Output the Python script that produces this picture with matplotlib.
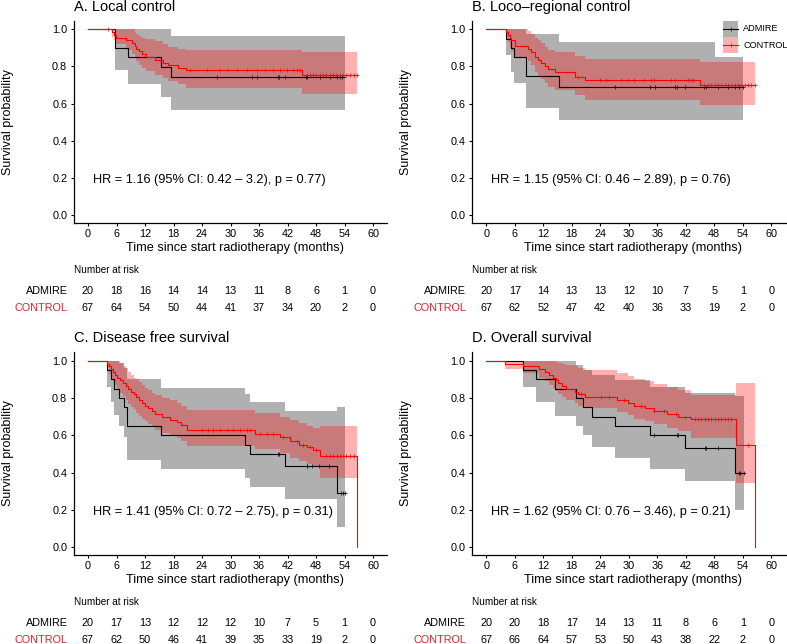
import numpy as np
import matplotlib
matplotlib.use("Agg")
import matplotlib.pyplot as plt
from matplotlib.transforms import blended_transform_factory
from matplotlib.patches import Rectangle
from matplotlib.lines import Line2D

plt.rcParams['font.family'] = ['Liberation Sans', 'DejaVu Sans']

W, H = 787, 644
nan = np.nan

# ---------------- data ----------------
risk_times = [0, 6, 12, 18, 24, 30, 36, 42, 48, 54, 60]
groups = ["ADMIRE", "CONTROL"]
titles = ["A. Local control", "B. Loco\u2013regional control",
          "C. Disease free survival", "D. Overall survival"]
hr_texts = ["HR = 1.16 (95% CI: 0.42 \u2013 3.2), p = 0.77)",
            "HR = 1.15 (95% CI: 0.46 \u2013 2.89), p = 0.76)",
            "HR = 1.41 (95% CI: 0.72 \u2013 2.75), p = 0.31)",
            "HR = 1.62 (95% CI: 0.76 \u2013 3.46), p = 0.21)"]

# Panel A
a_adm_t = [0, 5.7, 8.5, 15.4, 17.4]
a_adm_s = [1.0, 0.90, 0.85, 0.797, 0.744]
a_adm_lo = [1.0, 0.78, 0.704, 0.633, 0.568]
a_adm_hi = [1.0, 1.0, 1.0, 1.0, 0.964]
a_adm_end = 54.1
a_adm_cens = [27.1, 34.5, 35.5, 39.9, 40.2, 41.5, 45.9, 46.2, 48.8, 50.9, 52.4, 53.0, 53.5]
a_ctl_t = [0, 5.0, 5.4, 5.8, 8.1, 9.2, 9.9, 10.2, 10.8, 11.3, 12.3, 14.1, 15.8, 16.9, 19.0, 20.7, 45.0]
a_ctl_s = [1.0, .985, .970, .955, .940, .925, .910, .896, .881, .866, .851, .836, .821, .806, .791, .780, .754]
a_ctl_lo = [1.0, .96, .94, .92, .89, .865, .845, .83, .81, .79, .775, .755, .735, .72, .705, .685, .65]
a_ctl_hi = [1.0, 1.0, 1.0, 1.0, 1.0, 1.0, .985, .975, .965, .955, .945, .935, .92, .905, .895, .887, .875]
a_ctl_end = 56.6
a_ctl_cens = [4.2, 21.5, 25.0, 27.8, 29.2, 31.3, 33.4, 35.5, 37.3, 39.0, 40.4, 41.8, 43.2, 43.9, 44.6,
              46.0, 46.7, 47.4, 48.1, 48.8, 49.5, 50.2, 50.9, 51.6, 52.3, 53.0, 53.7, 54.4, 55.1, 55.9, 56.6]
a_risk_adm = [20, 18, 16, 14, 14, 13, 11, 8, 6, 1, 0]
a_risk_ctl = [67, 64, 54, 50, 44, 41, 37, 34, 20, 2, 0]

# Panel B
b_adm_t = [0, 4.2, 5.3, 5.8, 8.4, 15.4]
b_adm_s = [1.0, .95, .90, .85, .75, .69]
b_adm_lo = [1.0, .86, .77, .71, .575, .51]
b_adm_hi = [1.0, 1.0, 1.0, 1.0, .973, .934]
b_adm_end = 54.0
b_adm_cens = [27.0, 34.4, 35.5, 39.8, 40.1, 41.8, 45.9, 46.2, 48.8, 50.9, 52.3, 53.3, 54.0]
b_ctl_t = [0, 4.2, 4.6, 5.0, 5.3, 6.0, 8.8, 9.5, 10.2, 10.9, 11.6, 12.3, 13.0, 14.4, 18.6, 20.7, 45.0]
b_ctl_s = [1.0, .985, .97, .955, .94, .91, .895, .88, .85, .835, .82, .80, .785, .77, .745, .725, .70]
b_ctl_lo = [1.0, .955, .93, .905, .885, .85, .83, .81, .77, .75, .73, .71, .69, .675, .645, .62, .59]
b_ctl_hi = [1.0, 1.0, 1.0, 1.0, 1.0, 1.0, .99, .975, .955, .94, .925, .905, .89, .875, .855, .84, .826]
b_ctl_end = 56.5
b_ctl_cens = [19.3, 23.9, 25.3, 28.4, 29.8, 31.2, 33.3, 34.7, 35.4, 38.9, 39.7, 42.5, 43.2, 43.5, 45.9,
              46.7, 47.4, 48.1, 48.8, 49.5, 50.2, 50.9, 51.6, 52.3, 53.0, 53.7, 54.4, 55.1, 55.8, 56.5]
b_risk_adm = [20, 17, 14, 13, 13, 12, 10, 7, 5, 1, 0]
b_risk_ctl = [67, 62, 52, 47, 42, 40, 36, 33, 19, 2, 0]

# Panel C
c_adm_t = [0, 4.0, 4.8, 5.4, 6.5, 7.5, 8.3, 15.4, 33.1, 34.2, 41.5, 52.4]
c_adm_s = [1.0, .95, .90, .85, .80, .75, .65, .60, .55, .50, .4375, .29]
c_adm_lo = [1.0, .86, .78, .71, .65, .59, .47, .42, .37, .325, .26, .11]
c_adm_hi = [1.0, 1.0, 1.0, 1.0, .99, .96, .90, .857, .82, .78, .73, .755]
c_adm_end = 54.2
c_adm_cens = [40.1, 40.3, 46.0, 46.2, 47.1, 48.7, 50.8, 53.3, 53.6, 54.2]
c_ctl_t = [0, 4.0, 4.4, 4.8, 5.2, 5.6, 6.2, 6.8, 7.3, 7.9, 8.5, 9.0, 9.6, 10.2, 10.8, 11.4, 12.0, 12.6,
           13.4, 14.2, 15.5, 17.3, 18.8, 19.6, 20.8, 35.2, 40.4, 42.5, 44.5, 46.0, 47.4, 48.8, 56.6]
c_ctl_s = [1.0, .985, .97, .955, .94, .925, .91, .895, .88, .865, .85, .835, .82, .805, .79, .775, .76,
           .745, .73, .715, .70, .685, .67, .655, .627, .61, .59, .568, .55, .535, .52, .49, 0.0]
c_ctl_lo = [1.0, .96, .93, .91, .89, .87, .85, .83, .81, .79, .77, .755, .74, .72, .705, .69, .675,
            .66, .645, .63, .615, .60, .585, .57, .545, .525, .505, .48, .46, .445, .43, .37, nan]
c_ctl_hi = [1.0, 1.0, 1.0, 1.0, 1.0, 1.0, 1.0, .99, .975, .96, .94, .925, .91, .90, .885, .87, .855,
            .845, .83, .815, .80, .79, .775, .76, .737, .72, .70, .68, .665, .65, .64, .648, nan]
c_ctl_end = 56.6
c_ctl_cens = [23.9, 25.3, 26.4, 27.8, 29.2, 30.6, 32.0, 33.4, 34.1, 36.2, 37.6, 39.0, 41.1, 43.9,
              45.3, 46.7, 48.1, 50.2, 50.9, 51.6, 52.4, 53.0, 53.7, 54.4, 55.2, 55.9]
c_risk_adm = [20, 17, 13, 12, 12, 12, 10, 7, 5, 1, 0]
c_risk_ctl = [67, 62, 50, 46, 41, 39, 35, 33, 19, 2, 0]

# Panel D
d_adm_t = [0, 7.7, 10.5, 14.4, 18.9, 20.4, 22.2, 27.0, 34.4, 41.8, 52.3]
d_adm_s = [1.0, .95, .90, .85, .80, .75, .70, .65, .60, .533, .40]
d_adm_lo = [1.0, .86, .78, .705, .65, .60, .54, .48, .42, .353, .20]
d_adm_hi = [1.0, 1.0, 1.0, 1.0, .98, .95, .925, .895, .86, .826, .81]
d_adm_end = 54.3
d_adm_cens = [35.4, 40.1, 40.3, 46.0, 46.2, 48.8, 53.3, 53.5, 54.3]
d_ctl_t = [0, 3.9, 7.7, 11.2, 12.3, 13.2, 14.0, 14.7, 15.1, 16.0, 16.8, 18.6, 19.3, 20.7, 27.6,
           29.8, 31.2, 33.5, 35.4, 38.0, 40.4, 43.2, 52.6, 56.5]
d_ctl_s = [1.0, .985, .97, .955, .94, .925, .91, .895, .88, .865, .85, .835, .82, .806, .79,
           .775, .76, .745, .73, .715, .70, .688, .55, 0.0]
d_ctl_lo = [1.0, .955, .935, .91, .89, .87, .855, .84, .82, .805, .79, .775, .76, .745, .725,
            .71, .69, .675, .66, .64, .625, .585, .343, nan]
d_ctl_hi = [1.0, 1.0, 1.0, 1.0, 1.0, 1.0, 1.0, .995, .99, .985, .98, .97, .96, .95, .935,
            .92, .905, .89, .875, .86, .845, .817, .88, nan]
d_ctl_end = 56.5
d_ctl_cens = [20.0, 24.2, 25.9, 29.1, 32.6, 35.4, 37.5, 40.0, 41.8, 43.9, 44.6, 45.3, 46.0, 46.7,
              47.4, 48.1, 48.8, 49.5, 50.2, 50.9, 51.6, 55.1]
d_risk_adm = [20, 20, 18, 17, 14, 13, 11, 8, 6, 1, 0]
d_risk_ctl = [67, 66, 64, 57, 53, 50, 43, 38, 22, 2, 0]

panels = [
    ((a_adm_t, a_adm_s, a_adm_lo, a_adm_hi, a_adm_end, a_adm_cens),
     (a_ctl_t, a_ctl_s, a_ctl_lo, a_ctl_hi, a_ctl_end, a_ctl_cens), a_risk_adm, a_risk_ctl),
    ((b_adm_t, b_adm_s, b_adm_lo, b_adm_hi, b_adm_end, b_adm_cens),
     (b_ctl_t, b_ctl_s, b_ctl_lo, b_ctl_hi, b_ctl_end, b_ctl_cens), b_risk_adm, b_risk_ctl),
    ((c_adm_t, c_adm_s, c_adm_lo, c_adm_hi, c_adm_end, c_adm_cens),
     (c_ctl_t, c_ctl_s, c_ctl_lo, c_ctl_hi, c_ctl_end, c_ctl_cens), c_risk_adm, c_risk_ctl),
    ((d_adm_t, d_adm_s, d_adm_lo, d_adm_hi, d_adm_end, d_adm_cens),
     (d_ctl_t, d_ctl_s, d_ctl_lo, d_ctl_hi, d_ctl_end, d_ctl_cens), d_risk_adm, d_risk_ctl),
]

# ---------------- style / layout ----------------
LINE_COLS = ["black", "#FF0000"]
BAND_COLS = ["#000000", "#FF0000"]
BAND_ALPHA = 0.31
RISK_COLS = ["black", "#E0202A"]
CENS_MS = 2.6
CENS_MEW = 0.5

fig = plt.figure(figsize=(W / 100, H / 100), dpi=100)


def fx(x):
    return x / W


def fy(y):
    return 1 - y / H


# pixel boxes (left, top, right, bottom)
boxes = [(73.75, 20.7, 387.25, 222.7), (472.0, 20.7, 785.5, 222.7),
         (73.75, 352.3, 387.25, 554.8), (472.0, 352.3, 785.5, 554.8)]
title_y = [7, 7, 338, 338]
row_y = [dict(tick=234, xlab=247.5, nar=270, adm=291, ctl=308),
         dict(tick=566, xlab=580, nar=602, adm=622.5, ctl=640)]


def draw_group(ax, data, col, bcol, zb, zl):
    t, s, lo, hi, end, cens = data
    t = np.asarray(t, float)
    s = np.asarray(s, float)
    lo = np.asarray(lo, float)
    hi = np.asarray(hi, float)
    cens = np.asarray(cens, float)
    valid = ~np.isnan(lo)
    bt = t[valid]
    band_end = t[~valid][0] if (~valid).any() else end
    xb = np.append(bt, band_end)
    ax.fill_between(xb, np.append(lo[valid], lo[valid][-1]), np.append(hi[valid], hi[valid][-1]),
                    step='post', color=bcol, alpha=BAND_ALPHA, lw=0, zorder=zb)
    x = np.append(t, end)
    y = np.append(s, s[-1])
    ax.step(x, y, where='post', color=col, lw=0.8, zorder=zl)
    idx = np.searchsorted(t, cens, side='right') - 1
    ax.plot(cens, s[idx], ls='none', marker='+', ms=CENS_MS, mew=CENS_MEW, color=col, zorder=zl)


for i, (adm, ctl, radm, rctl) in enumerate(panels):
    l, t_, r, b = boxes[i]
    ax = fig.add_axes([fx(l), fy(b), fx(r) - fx(l), fy(t_) - fy(b)])
    ax.set_xlim(-3, 63)
    ax.set_ylim(-0.041, 1.046)
    for sp in ['top', 'right']:
        ax.spines[sp].set_visible(False)
    for sp in ['left', 'bottom']:
        ax.spines[sp].set_linewidth(0.9)
    ax.set_xticks(risk_times)
    ax.set_yticks([0, 0.2, 0.4, 0.6, 0.8, 1.0])
    ax.set_yticklabels(["0.0", "0.2", "0.4", "0.6", "0.8", "1.0"])
    ax.tick_params(axis='both', labelsize=7.8, length=2.5, width=0.8, colors='black', pad=2.2)

    draw_group(ax, adm, LINE_COLS[0], BAND_COLS[0], 1, 3)
    draw_group(ax, ctl, LINE_COLS[1], BAND_COLS[1], 2, 4)

    ax.text(1.0, 0.19, hr_texts[i], fontsize=9.2, ha='left', va='center', color='black')

    fig.text(fx(l), fy(title_y[i]), titles[i], fontsize=10.5, ha='left', va='center')
    row = row_y[i // 2]
    cx = (l + r) / 2
    fig.text(fx(cx + 4), fy(row['xlab']), "Time since start radiotherapy (months)", fontsize=9.2,
             ha='center', va='center')
    fig.text(fx(l - 66), fy((t_ + b) / 2), "Survival probability", fontsize=9.0, rotation=90,
             ha='center', va='center')

    # risk table
    tr = blended_transform_factory(ax.transData, fig.transFigure)
    fig.text(fx(l), fy(row['nar']), "Number at risk", fontsize=7.2, ha='left', va='center')
    fig.text(fx(l - 6), fy(row['adm']), groups[0], fontsize=7.8, ha='right', va='center', color=RISK_COLS[0])
    fig.text(fx(l - 6), fy(row['ctl']), groups[1], fontsize=7.8, ha='right', va='center', color=RISK_COLS[1])
    for tt, n1, n2 in zip(risk_times, radm, rctl):
        ax.text(tt, fy(row['adm']), str(n1), transform=tr, fontsize=7.8, ha='center', va='center',
                clip_on=False)
        ax.text(tt, fy(row['ctl']), str(n2), transform=tr, fontsize=7.8, ha='center', va='center',
                clip_on=False)

# legend in panel B (manual, white background covering bands)
leg_ax = fig.add_axes([0, 0, 1, 1], facecolor='none')
leg_ax.set_xlim(0, W)
leg_ax.set_ylim(H, 0)
leg_ax.axis('off')
leg_ax.add_patch(Rectangle((715, 14), 80, 43, facecolor='white', edgecolor='none', zorder=1))
for k, (yy, g) in enumerate([(21, groups[0]), (37.3, groups[1])]):
    leg_ax.add_patch(Rectangle((723, yy), 15, 15.5, facecolor=BAND_COLS[k], alpha=BAND_ALPHA,
                               edgecolor='none', zorder=2))
    leg_ax.add_line(Line2D([723, 738], [yy + 7.7, yy + 7.7], color=LINE_COLS[k], lw=0.8, zorder=3))
    leg_ax.plot([730.5], [yy + 7.7], marker='+', ms=CENS_MS, mew=CENS_MEW, color=LINE_COLS[k], zorder=3)
    leg_ax.text(743, yy + 7.7, g, fontsize=6.6, ha='left', va='center', zorder=3)

fig.savefig("out.png", dpi=100)
